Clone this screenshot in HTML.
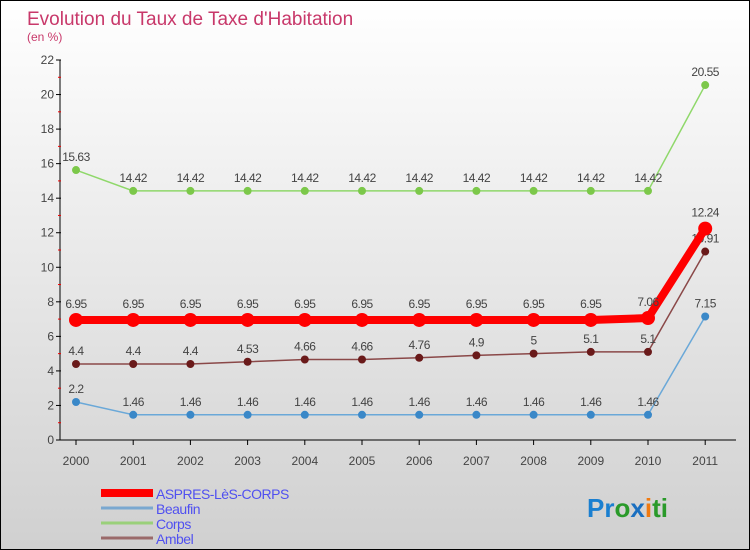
<!DOCTYPE html>
<html><head><meta charset="utf-8"><style>
body{margin:0}
#c{width:748px;height:548px;border:1px solid #000;background:linear-gradient(#fff,#d0d0d0);position:relative;font-family:"Liberation Sans",sans-serif;overflow:hidden}
</style></head><body>
<div id="c">
<svg id="s" width="748" height="548" xmlns="http://www.w3.org/2000/svg">
<text x="26" y="24" font-size="19" fill="#c8386a">Evolution du Taux de Taxe d'Habitation</text>
<text x="26" y="40" font-size="12" fill="#c8386a">(en %)</text>
<text x="586" y="516" font-size="26" fill="#1a7fd0" font-weight="bold">Pr<tspan fill="#2a9a2a">o</tspan><tspan fill="#1a6fc0">x</tspan><tspan fill="#f07a10">i</tspan><tspan fill="#2a9a2a">ti</tspan></text>
</svg>
</div>
<script>
const years=[2000,2001,2002,2003,2004,2005,2006,2007,2008,2009,2010,2011];
const aspres=[6.95,6.95,6.95,6.95,6.95,6.95,6.95,6.95,6.95,6.95,7.06,12.24];
const beaufin=[2.2,1.46,1.46,1.46,1.46,1.46,1.46,1.46,1.46,1.46,1.46,7.15];
const corps=[15.63,14.42,14.42,14.42,14.42,14.42,14.42,14.42,14.42,14.42,14.42,20.55];
const ambel=[4.4,4.4,4.4,4.53,4.66,4.66,4.76,4.9,5,5.1,5.1,10.91];
const yTicks=[0,2,4,6,8,10,12,14,16,18,20,22];
const NS="http://www.w3.org/2000/svg";
const s=document.getElementById('s');
const X=i=>75+i*57.2, Y=v=>439-v*(380/22);
function mk(t,a,p){const e=document.createElementNS(NS,t);for(const k in a)e.setAttribute(k,a[k]);(p||s).appendChild(e);return e;}
let ax=mk('line',{x1:59,y1:Y(22),x2:59,y2:Y(0),stroke:'#000'});


let xa=mk('line',{x1:59,y1:Y(0),x2:735,y2:Y(0),stroke:'#000'});


yTicks.forEach(v=>{
 mk('line',{x1:55,y1:Y(v),x2:60,y2:Y(v),stroke:'#000'});
 if(v<22)mk('line',{x1:57,y1:Y(v+1),x2:60,y2:Y(v+1),stroke:'#e00'});
 let t=mk('text',{x:53,y:Y(v)+4,'font-size':12,fill:'#444','text-anchor':'end'});t.textContent=v;
 
 
});
years.forEach((y,i)=>{
 mk('line',{x1:X(i),y1:Y(0),x2:X(i),y2:Y(0)+5,stroke:'#000'});
 let t=mk('text',{x:X(i),y:Y(0)+25,'font-size':12,fill:'#444','text-anchor':'middle'});t.textContent=y;
 
 
});
function series(d,name,col,w,r,lab){
 const g=mk('g',{});
 
 
 mk('polyline',{points:d.map((v,i)=>X(i)+','+Y(v)).join(' '),fill:'none',stroke:col,'stroke-width':w},g);
 d.forEach((v,i)=>{
  const c=mk('circle',{cx:X(i),cy:Y(v),r:r,fill:lab},g);
  
  
  const t=mk('text',{x:X(i),y:Y(v)-9-(r>5?3:0),'font-size':12,fill:'#444','text-anchor':'middle','letter-spacing':'-0.5'},g);t.textContent=v;
  
  
 });
}
series(corps,'corps','#8fd86a',1.5,4,'#7cc84a');
series(beaufin,'beaufin','#6aa8d8',1.5,4,'#3a88c8');
series(ambel,'ambel','#8a4848',1.5,4,'#6a1a1a');
series(aspres,'aspres','#f00',8,7,'#f00');
const leg=[['ASPRES-LèS-CORPS','#f00',8],['Beaufin','#7aa8d0',3],['Corps','#9ad07a',3],['Ambel','#9a6a6a',3]];
leg.forEach((l,i)=>{
 const y=492+i*15;
 const g=mk('g',{});
 
 
 mk('line',{x1:100,y1:y,x2:152,y2:y,stroke:l[1],'stroke-width':l[2]},g);
 const t=mk('text',{x:155,y:y+6,'font-size':14,fill:'#5050f0','letter-spacing':'-0.5'},g);t.textContent=l[0];
});
</script>
</body></html>
